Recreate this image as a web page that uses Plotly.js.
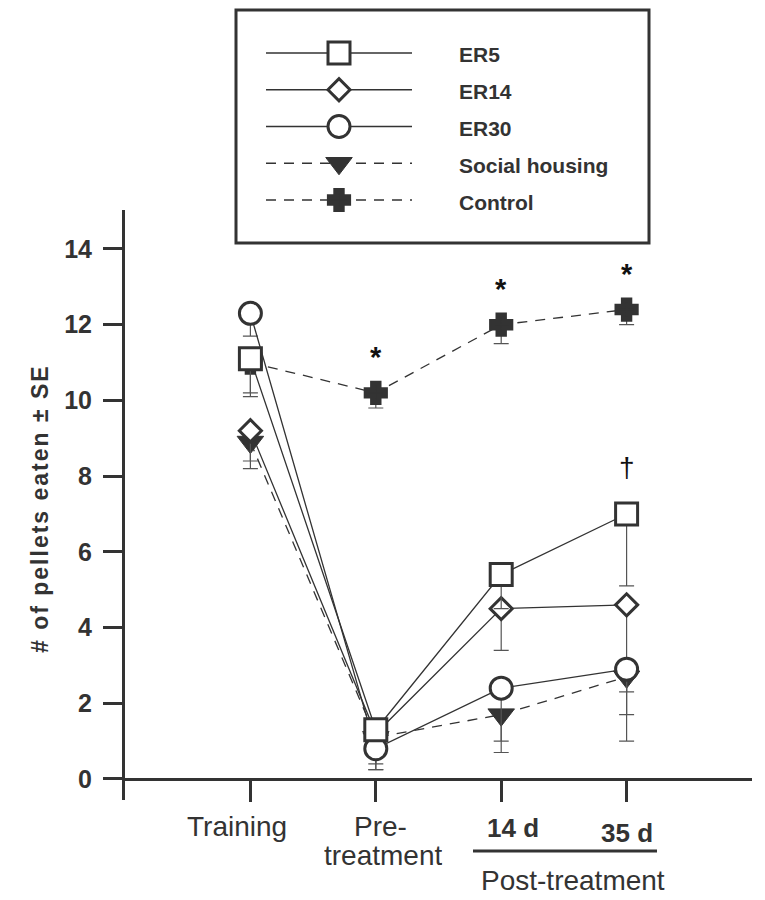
<!DOCTYPE html>
<html>
<head>
<meta charset="utf-8">
<script src="https://cdn.plot.ly/plotly-3.0.1.min.js"></script>
<style>
html,body{margin:0;padding:0;background:#fff;}
#chart{width:765px;height:900px;}
</style>
</head>
<body>
<div id="chart"></div>
<script>
// ---------- data ----------
const categories = ['Training', 'Pre-treatment', '14 d', '35 d'];
const seriesNames = ['ER5', 'ER14', 'ER30', 'Social housing', 'Control'];

const er5 = [11.1, 1.3, 5.4, 7.0];
const er5Minus = [0.9, 0.3, 0.9, 1.9];
const er14 = [9.2, 1.2, 4.5, 4.6];
const er14Minus = [1.0, 0.95, 1.1, 3.6];
const er30 = [12.3, 0.8, 2.4, 2.9];
const er30Minus = [0.6, 0.4, 1.4, 1.2];
const social = [8.9, 1.1, 1.7, 2.7];
const socialMinus = [0.5, 0.85, 1.0, 0.4];
const control = [11.0, 10.2, 12.0, 12.4];
const controlMinus = [0.9, 0.4, 0.5, 0.4];

const yTicks = [0, 2, 4, 6, 8, 10, 12, 14];
const xTickLabels = ['Training', 'Pre-|treatment', '14 d', '35 d'];
const groupLabel = 'Post-treatment';
const starPoints = [1, 2, 3];      // control differs (*)
const daggerPoints = [3];          // ER5 differs (†)
const yTitle = '# of pellets eaten \u00b1 SE';

// ---------- style ----------
const W = 765, H = 900;
const INK = '#333333';
const FONT = 'Liberation Sans, Arial, Helvetica, sans-serif';
const px = v => v / W;
const py = v => (H - v) / H;

const styles = [
  {symbol: 'square', size: 22, color: '#ffffff', lw: 3, dash: 'solid'},
  {symbol: 'diamond', size: 17, color: '#ffffff', lw: 3, dash: 'solid'},
  {symbol: 'circle', size: 22, color: '#ffffff', lw: 3, dash: 'solid'},
  {symbol: 'triangle-down', size: 23, color: INK, lw: 1, dash: '10px,8px'},
  {symbol: 'cross', size: 16, color: INK, lw: 5, dash: '10px,8px'}
];
const values = [er5, er14, er30, social, control];
const minus = [er5Minus, er14Minus, er30Minus, socialMinus, controlMinus];

// draw order: Control, Social, ER14, ER30, ER5
const order = [4, 3, 1, 2, 0];
const traces = [];
order.forEach(i => {
  const s = styles[i];
  traces.push({
    type: 'scatter', mode: 'lines+markers',
    x: categories, y: values[i], name: seriesNames[i],
    xaxis: 'x', yaxis: 'y', showlegend: false, hoverinfo: 'skip',
    line: {color: INK, width: 1.3, dash: s.dash},
    marker: {symbol: s.symbol, size: s.size, color: s.color,
             line: {color: INK, width: s.lw}},
    error_y: {type: 'data', symmetric: false,
              array: values[i].map(() => 0), arrayminus: minus[i],
              color: '#555555', thickness: 1.2, width: 7.5}
  });
});

// legend samples drawn on an auxiliary axis pair
seriesNames.forEach((nm, i) => {
  const s = styles[i];
  traces.push({
    type: 'scatter', mode: 'lines',
    x: [0, 1], y: [i, i],
    xaxis: 'x2', yaxis: 'y2', showlegend: false, hoverinfo: 'skip',
    line: {color: INK, width: 1.3, dash: s.dash}
  });
  traces.push({
    type: 'scatter', mode: 'markers',
    x: [0.5], y: [i],
    xaxis: 'x2', yaxis: 'y2', showlegend: false, hoverinfo: 'skip',
    marker: {symbol: s.symbol, size: s.size, color: s.color,
             line: {color: INK, width: s.lw}}
  });
});

const annotations = [];
// y-axis title
annotations.push({xref: 'paper', yref: 'paper', x: px(40), y: py(509),
  text: '<b>' + yTitle + '</b>', textangle: -90, showarrow: false,
  xanchor: 'center', yanchor: 'middle',
  font: {family: FONT, size: 23, color: INK}});
// legend labels
seriesNames.forEach((nm, i) => {
  annotations.push({xref: 'x2', yref: 'y2', x: 1, y: i, xshift: 45, yshift: -2,
    text: '<b>' + nm + '</b>', showarrow: false, xanchor: 'left', yanchor: 'middle',
    font: {family: FONT, size: 21, color: INK}});
});
// x labels
const xl = [
  {x: 0, dx: -13, yb: 837, bold: false, tight: false},
  {x: 1, dx: 5, yb: 836, bold: false, tight: true},
  {x: 1, dx: 7, yb: 865, bold: false, tight: true},
  {x: 2, dx: 12, yb: 837, bold: true, tight: false},
  {x: 3, dx: 0, yb: 842, bold: true, tight: false}
];
const parts = [];
xTickLabels.forEach(lab => lab.split('|').forEach(p => parts.push(p)));
xl.forEach((o, k) => {
  const fs = o.bold ? 26 : 28;
  const a = {xref: 'x', yref: 'paper', x: o.x, xshift: o.dx, y: py(o.yb - fs * 0.36),
    text: o.bold ? '<b>' + parts[k] + '</b>' : parts[k], showarrow: false,
    xanchor: 'center', yanchor: 'middle',
    font: {family: FONT, size: fs, color: INK}};
  if (o.tight) { a.height = 28; a.valign = 'middle'; }
  annotations.push(a);
});
annotations.push({xref: 'x', yref: 'paper', x: 2.5, xshift: 9, y: py(890 - 10),
  text: groupLabel, showarrow: false, xanchor: 'center', yanchor: 'middle',
  font: {family: FONT, size: 28, color: INK}});
// significance marks
starPoints.forEach(i => {
  annotations.push({xref: 'x', yref: 'y', x: i, y: control[i], yshift: 36,
    text: '<b>*</b>', showarrow: false, xanchor: 'center', yanchor: 'middle',
    font: {family: FONT, size: 29, color: '#111'}});
});
daggerPoints.forEach(i => {
  annotations.push({xref: 'x', yref: 'y', x: i, y: er5[i], yshift: 46,
    text: '\u2020', showarrow: false, xanchor: 'center', yanchor: 'middle',
    font: {family: FONT, size: 28, color: '#111'}});
});

const shapes = [
  // legend frame
  {type: 'rect', xref: 'paper', yref: 'paper', x0: px(236), x1: px(649), y0: py(243), y1: py(10),
   line: {color: INK, width: 3}, fillcolor: 'rgba(0,0,0,0)'},
  // post-treatment bracket line
  {type: 'line', xref: 'paper', yref: 'paper', x0: px(473), x1: px(657), y0: py(851), y1: py(851),
   line: {color: INK, width: 3}}
];

const layout = {
  width: W, height: H,
  margin: {l: 0, r: 0, t: 0, b: 0, pad: 0},
  paper_bgcolor: '#fff', plot_bgcolor: 'rgba(0,0,0,0)',
  showlegend: false,
  font: {family: FONT, color: INK},
  xaxis: {
    type: 'category', categoryarray: categories, range: [-1, 4],
    domain: [px(125), px(752)], anchor: 'free', position: py(779),
    showline: true, linecolor: INK, linewidth: 3,
    ticks: 'outside', ticklen: 21, tickwidth: 3, tickcolor: INK,
    tickvals: categories, showticklabels: false,
    showgrid: false, zeroline: false, fixedrange: true
  },
  yaxis: {
    range: [-0.555, 15.03], domain: [py(800), py(210)], anchor: 'x',
    showline: true, linecolor: INK, linewidth: 3,
    ticks: 'outside', ticklen: 19, tickwidth: 3, tickcolor: INK,
    tickvals: yTicks, ticktext: yTicks.map(String), ticklabelstandoff: 6,
    tickfont: {family: FONT, size: 25, color: INK, weight: 'bold'},
    showgrid: false, zeroline: false, fixedrange: true
  },
  xaxis2: {domain: [px(266), px(412)], range: [0, 1], anchor: 'y2', visible: false, fixedrange: true},
  yaxis2: {domain: [py(218.4), py(34.6)], range: [4.5, -0.5], anchor: 'x2', visible: false, fixedrange: true},
  annotations: annotations,
  shapes: shapes
};

Plotly.newPlot('chart', traces, layout, {displayModeBar: false, staticPlot: true}).then(() => {
  // letter spacing for the y title (wide original typeface)
  document.querySelectorAll('g.annotation').forEach(g => {
    const idx = +g.getAttribute('data-index');
    const t = g.querySelector('text');
    if (t && idx === 0) t.style.letterSpacing = '2px';
  });
});
</script>
</body>
</html>
